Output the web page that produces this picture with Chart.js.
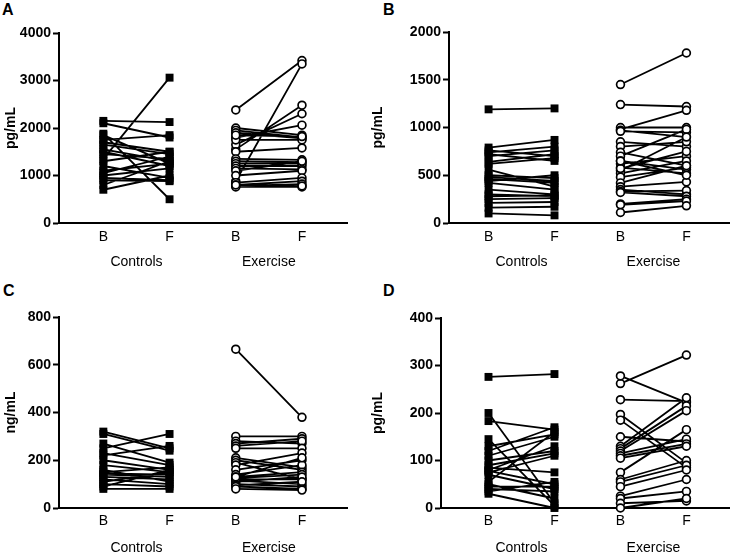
<!DOCTYPE html>
<html>
<head>
<meta charset="utf-8">
<script src="https://cdn.jsdelivr.net/npm/chart.js@4.4.1/dist/chart.umd.min.js"></script>
<style>
  body { margin: 0; background: #fff; width: 735px; height: 554px; position: relative; overflow: hidden; font-family: "Liberation Sans", Arial, sans-serif; }
  canvas { position: absolute; }
  .letter { position: absolute; font-weight: bold; font-size: 16px; line-height: 1; color: #000; }
</style>
</head>
<body>
<div class="letter" style="left:2px;top:2px">A</div>
<div class="letter" style="left:383px;top:2px">B</div>
<div class="letter" style="left:3px;top:283px">C</div>
<div class="letter" style="left:383px;top:283px">D</div>
<canvas id="chartA" width="367" height="277" style="left:0;top:0"></canvas>
<canvas id="chartB" width="368" height="277" style="left:367px;top:0"></canvas>
<canvas id="chartC" width="367" height="277" style="left:0;top:277px"></canvas>
<canvas id="chartD" width="368" height="277" style="left:367px;top:277px"></canvas>
<script>
// x categories
const timeLabels = ['B', 'F', 'B', 'F']
const timePos = [1, 2, 3, 4]
const groupLabels = ['Controls', 'Exercise']
const groupPos = [1.5, 3.5]

// panel A (pg/mL)
const aTicks = [0, 1000, 2000, 3000, 4000]
const aCtrlB = [2150, 2100, 1880, 1850, 1750, 1700, 1650, 1550, 1500, 1450, 1350, 1300, 1200, 1100, 1050, 1000, 950, 900, 800, 700]
const aCtrlF = [2125, 1800, 500, 1250, 1850, 1500, 1450, 1300, 1200, 1350, 3060, 1500, 950, 1250, 1400, 1150, 900, 880, 1300, 1000]
const aExB = [2380, 880, 1550, 1650, 1800, 2000, 1950, 1900, 1750, 1850, 1500, 1350, 1300, 1250, 1200, 1150, 1100, 1000, 850, 800, 780, 760, 800]
const aExF = [3420, 3350, 2480, 2300, 2060, 1850, 1800, 1780, 1750, 1820, 1580, 1330, 1280, 1250, 1200, 1130, 1300, 1100, 950, 880, 820, 760, 780]

// panel B (pg/mL)
const bTicks = [0, 500, 1000, 1500, 2000]
const bCtrlB = [1190, 790, 760, 740, 720, 700, 640, 620, 560, 500, 480, 460, 440, 420, 350, 300, 280, 250, 210, 160, 100]
const bCtrlF = [1200, 870, 700, 800, 650, 760, 720, 680, 380, 470, 440, 420, 500, 350, 300, 280, 290, 260, 220, 170, 80]
const bExB = [1450, 1240, 980, 1000, 970, 960, 850, 800, 740, 700, 650, 620, 580, 550, 520, 480, 420, 380, 350, 330, 320, 200, 190, 110, 570, 650]
const bExF = [1780, 1220, 1180, 1000, 900, 950, 800, 850, 600, 980, 560, 700, 520, 900, 650, 580, 600, 430, 300, 340, 280, 250, 230, 180, 750, 500]

// panel C (ng/mL)
const cTicks = [0, 200, 400, 600, 800]
const cCtrlB = [320, 310, 270, 250, 230, 220, 200, 180, 160, 150, 145, 140, 130, 120, 110, 100, 80, 90]
const cCtrlF = [250, 240, 190, 310, 180, 260, 160, 150, 110, 170, 140, 130, 120, 100, 150, 90, 80, 160]
const cExB = [665, 300, 280, 270, 260, 250, 210, 200, 190, 180, 160, 140, 130, 125, 120, 115, 110, 100, 95, 90, 80, 130]
const cExF = [380, 300, 270, 290, 280, 250, 170, 160, 120, 230, 200, 180, 150, 140, 120, 100, 130, 90, 110, 80, 75, 210]

// panel D (pg/mL)
const dTicks = [0, 100, 200, 300, 400]
const dCtrlB = [276, 200, 183, 145, 130, 120, 110, 100, 90, 80, 78, 75, 70, 55, 50, 45, 40, 35, 30, 85]
const dCtrlF = [282, 10, 165, 5, 155, 170, 150, 120, 115, 130, 50, 110, 40, 160, 20, 45, 35, 55, 0, 75]
const dExB = [262, 278, 228, 197, 185, 150, 130, 125, 120, 115, 110, 105, 75, 60, 55, 45, 25, 20, 10, 0]
const dExF = [322, 222, 225, 95, 85, 140, 232, 215, 205, 145, 135, 130, 165, 100, 90, 80, 60, 35, 15, 20]

const FONT = '"Liberation Sans", Arial, sans-serif'

// before/after pairs, a null point breaks the line between subjects
const pairs = (before, after, x0) => before.flatMap((b, i) => [
  { x: x0, y: b }, { x: x0 + 1, y: after[i] }, { x: x0 + 0.5, y: null }
])

const makeChart = (id, p) => {
  const ctx = document.getElementById(id)
  return new Chart(ctx, {
    type: 'line',
    data: {
      datasets: [{
        data: pairs(p.ctrlB, p.ctrlF, 1),
        borderColor: '#000',
        borderWidth: 1.8,
        pointStyle: 'rect',
        pointRadius: 5.6,
        pointBackgroundColor: '#000',
        pointBorderColor: '#000',
        pointBorderWidth: 0,
        spanGaps: false,
        tension: 0
      }, {
        data: pairs(p.exB, p.exF, 3),
        borderColor: '#000',
        borderWidth: 1.8,
        pointStyle: 'circle',
        pointRadius: 3.9,
        pointBackgroundColor: '#fff',
        pointBorderColor: '#000',
        pointBorderWidth: 1.7,
        spanGaps: false,
        tension: 0
      }]
    },
    options: {
      responsive: false,
      animation: false,
      clip: false,
      layout: { padding: { top: p.top, right: p.right, left: 0, bottom: 0 } },
      plugins: { legend: { display: false }, tooltip: { enabled: false } },
      scales: {
        x: {
          type: 'linear',
          min: p.xMin,
          max: p.xMax,
          weight: 0,
          afterBuildTicks: (s) => { s.ticks = timePos.map(v => ({ value: v })) },
          afterFit: (s) => { s.height = p.xH },
          ticks: {
            callback: (v, i) => timeLabels[i],
            autoSkip: false,
            maxRotation: 0,
            color: '#000',
            padding: p.xPad,
            font: { family: FONT, size: 14 }
          },
          grid: { display: false, drawTicks: false },
          border: { color: '#000', width: 2 }
        },
        x2: {
          type: 'linear',
          axis: 'x',
          position: 'bottom',
          min: p.xMin,
          max: p.xMax,
          weight: 1,
          afterBuildTicks: (s) => { s.ticks = groupPos.map(v => ({ value: v })) },
          afterFit: (s) => { s.height = 277 - p.bottom - p.xH },
          ticks: {
            callback: (v, i) => groupLabels[i],
            autoSkip: false,
            maxRotation: 0,
            color: '#000',
            padding: p.gPad,
            font: { family: FONT, size: 14 }
          },
          grid: { display: false, drawTicks: false },
          border: { display: false }
        },
        y: {
          min: 0,
          max: p.ticks[p.ticks.length - 1],
          afterBuildTicks: (s) => { s.ticks = p.ticks.map(v => ({ value: v })) },
          afterFit: (s) => { s.width = p.axisX },
          ticks: {
            callback: (v) => String(v),
            color: '#000',
            padding: 2,
            font: { family: FONT, size: 14, weight: 'bold' }
          },
          grid: { drawOnChartArea: false, drawTicks: true, tickLength: 6, tickWidth: 2, color: '#000' },
          border: { color: '#000', width: 2 },
          title: {
            display: true,
            text: p.unit,
            color: '#000',
            padding: { top: 3, bottom: 0 },
            font: { family: FONT, size: 14, weight: 'bold' }
          }
        }
      }
    }
  })
}

makeChart('chartA', { ctrlB: aCtrlB, ctrlF: aCtrlF, exB: aExB, exF: aExF, ticks: aTicks, unit: 'pg/mL',
  axisX: 59, top: 33, bottom: 223, right: 20, xMin: 0.33, xMax: 4.68, xH: 26, xPad: 6, gPad: 5 })
makeChart('chartB', { ctrlB: bCtrlB, ctrlF: bCtrlF, exB: bExB, exF: bExF, ticks: bTicks, unit: 'pg/mL',
  axisX: 82, top: 32, bottom: 223, right: 4, xMin: 0.4, xMax: 4.65, xH: 26, xPad: 6, gPad: 5 })
makeChart('chartC', { ctrlB: cCtrlB, ctrlF: cCtrlF, exB: cExB, exF: cExF, ticks: cTicks, unit: 'ng/mL',
  axisX: 59, top: 40, bottom: 231, right: 20, xMin: 0.33, xMax: 4.68, xH: 25, xPad: 5, gPad: 7 })
makeChart('chartD', { ctrlB: dCtrlB, ctrlF: dCtrlF, exB: dExB, exF: dExF, ticks: dTicks, unit: 'pg/mL',
  axisX: 74, top: 41, bottom: 231, right: 4, xMin: 0.28, xMax: 4.65, xH: 25, xPad: 5, gPad: 7 })
</script>
</body>
</html>
